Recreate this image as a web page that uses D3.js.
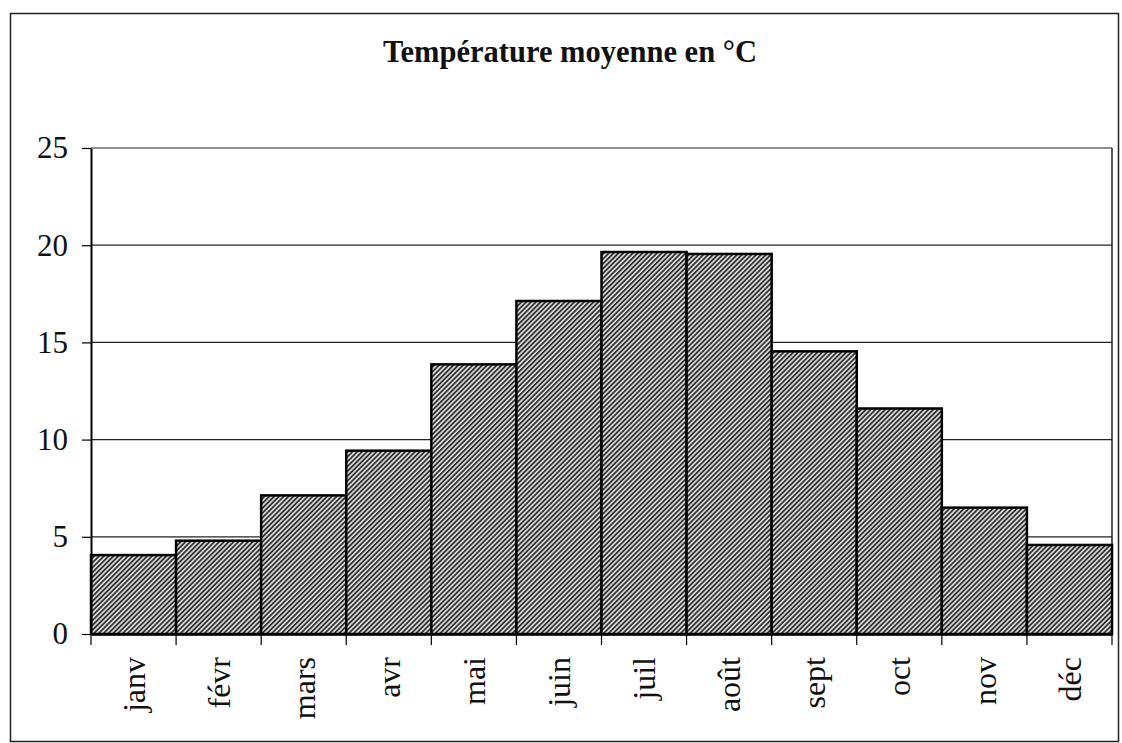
<!DOCTYPE html>
<html><head><meta charset="utf-8">
<script src="https://cdn.jsdelivr.net/npm/d3@7"></script>
<style>html,body{margin:0;padding:0;background:#fff;}svg{display:block;}</style>
</head><body>
<script>
const title = "Température moyenne en °C";
const months = ["janv","févr","mars","avr","mai","juin","juil","août","sept","oct","nov","déc"];
const temps = [4.06, 4.8, 7.13, 9.43, 13.87, 17.13, 19.65, 19.55, 14.54, 11.6, 6.5, 4.58];
const yTicks = [0, 5, 10, 15, 20, 25];

const W = 1122, H = 743;
const m = {left: 91, right: 1112, top: 148, bottom: 634};
const serif = "'Liberation Serif','Times New Roman',serif";

const svg = d3.select("body").append("svg").attr("width", W).attr("height", H);
const defs = svg.append("defs");
const pat = defs.append("pattern").attr("id","hatch").attr("patternUnits","userSpaceOnUse")
  .attr("width",3.4).attr("height",3.4).attr("patternTransform","rotate(45)");
pat.append("rect").attr("width",3.4).attr("height",3.4).attr("fill","#dcdcdc");
pat.append("line").attr("x1",0.9).attr("y1",0).attr("x2",0.9).attr("y2",3.4)
  .attr("stroke","#2a2a2a").attr("stroke-width",1.7);

// outer frame
svg.append("rect").attr("x",10.5).attr("y",13.5).attr("width",1108).attr("height",728)
  .attr("fill","none").attr("stroke","#222").attr("stroke-width",1.5);

svg.append("text").attr("x",570).attr("y",62).attr("text-anchor","middle")
  .attr("font-family",serif).attr("font-weight","bold").attr("font-size",30.5)
  .attr("fill","#111").text(title);

const x = d3.scaleBand().domain(months).range([m.left, m.right]).padding(0);
const y = d3.scaleLinear().domain([0,25]).range([m.bottom, m.top]);

// gridlines
svg.append("g").selectAll("line").data(yTicks.filter(d=>d>0)).join("line")
  .attr("x1",m.left).attr("x2",m.right).attr("y1",d=>y(d)).attr("y2",d=>y(d))
  .attr("stroke","#222").attr("stroke-width",1.2);
// right border of plot
svg.append("line").attr("x1",m.right).attr("x2",m.right).attr("y1",m.top).attr("y2",m.bottom)
  .attr("stroke","#222").attr("stroke-width",1.5);

// bars
svg.append("g").selectAll("rect").data(months).join("rect")
  .attr("x",d=>x(d)).attr("width",x.bandwidth())
  .attr("y",(d,i)=>y(temps[i])).attr("height",(d,i)=>y(0)-y(temps[i]))
  .attr("fill","url(#hatch)").attr("stroke","#000").attr("stroke-width",2.5);

// y axis
const yAxis = svg.append("g").attr("transform",`translate(${m.left},0)`)
  .call(d3.axisLeft(y).tickValues(yTicks).tickSize(9).tickPadding(14).tickSizeOuter(0));
yAxis.select(".domain").attr("stroke","#000").attr("stroke-width",2);
yAxis.selectAll(".tick line").attr("stroke","#000").attr("stroke-width",1.2);
yAxis.selectAll("text").attr("font-family",serif).attr("font-size",31).attr("fill","#111");

// x axis
const xAxis = svg.append("g").attr("transform",`translate(0,${m.bottom})`)
  .call(d3.axisBottom(x).tickSize(0).tickSizeOuter(0));
xAxis.select(".domain").attr("stroke","#000").attr("stroke-width",2.5);
xAxis.selectAll(".tick line").remove();
xAxis.selectAll("text").attr("font-family",serif).attr("font-size",32).attr("fill","#111")
  .attr("text-anchor","end").attr("transform","rotate(-90)")
  .attr("x",-23).attr("y",0).attr("dy","0.35em");
// tick marks at band boundaries
const bounds = months.map(d=>x(d)).concat([m.right]);
svg.append("g").selectAll("line").data(bounds).join("line")
  .attr("x1",d=>d).attr("x2",d=>d).attr("y1",m.bottom).attr("y2",m.bottom+11)
  .attr("stroke","#000").attr("stroke-width",1.2);
</script>
</body></html>
